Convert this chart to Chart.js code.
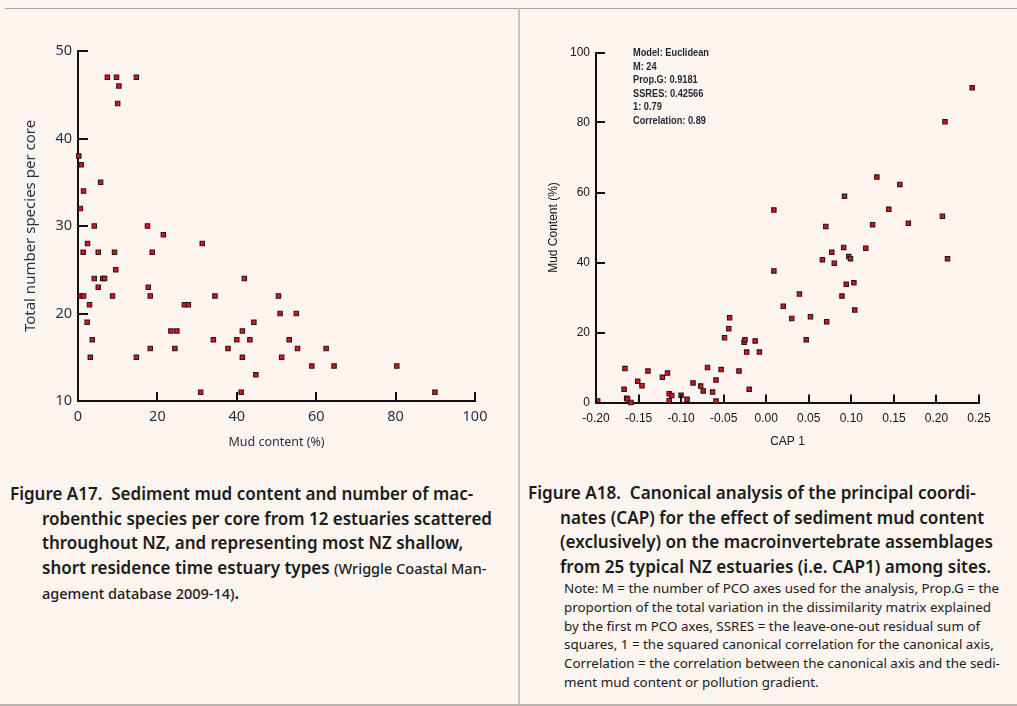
<!DOCTYPE html>
<html lang="en">
<head>
  <meta charset="utf-8"/>
  <title>Figure A17 / A18 - mud content</title>
  <script src="https://cdn.jsdelivr.net/npm/chart.js"></script>
  <style>
    body { margin: 0; background: #fcf4ef; width: 1017px; height: 706px; overflow: hidden; position: relative; font-family: "Noto Sans", "Open Sans", sans-serif; color: #1f2633; }
    .rule-top { position: absolute; left: 5px; right: 0; top: 8px; height: 1px; background: #aaa5a1; }
    .rule-mid { position: absolute; left: 518px; top: 8px; width: 2px; bottom: 0; background: #c9c3bf; }
    .rule-bot { position: absolute; left: 0; right: 0; top: 704px; height: 2px; background: #b9b4b0; }
    canvas { position: absolute; top: 0; }
    #chartLeft { left: 0; }
    #chartRight { left: 520px; }
    .cap { position: absolute; font-weight: 600; line-height: 24.7px; padding-left: 32px; text-indent: -32px; white-space: nowrap; color: #1b1b1b; }
    .cap .src { font-weight: 500; font-size: 14.5px; }
    .note { position: absolute; left: 564px; top: 579px; font-size: 13.4px; line-height: 18.8px; white-space: nowrap; color: #1b1b1b; }
    .stats { position: absolute; left: 633px; top: 46px; font-family: "Liberation Sans", Arial, sans-serif; font-weight: bold; font-size: 11px; line-height: 13.5px; color: #1e2636; transform: scaleX(0.84); transform-origin: left top; }
  </style>
</head>
<body>
  <div class="rule-top"></div>
  <div class="rule-mid"></div>
  <div class="rule-bot"></div>

  <canvas id="chartLeft" width="518" height="470"></canvas>
  <canvas id="chartRight" width="497" height="470"></canvas>

  <div class="stats">
    Model: Euclidean<br>
    M: 24<br>
    Prop.G: 0.9181<br>
    SSRES: 0.42566<br>
    1: 0.79<br>
    Correlation: 0.89
  </div>

  <div class="cap" style="left:10px; top:482px; font-size:17px;">
    Figure A17.&nbsp; Sediment mud content and number of mac-<br>
    robenthic species per core from 12 estuaries scattered<br>
    throughout NZ, and representing most NZ shallow,<br>
    short residence time estuary types <span class="src">(Wriggle Coastal Man-</span><br>
    <span class="src">agement database 2009-14)</span>.
  </div>

  <div class="cap" style="left:528px; top:481px; font-size:17.1px;">
    Figure A18.&nbsp; Canonical analysis of the principal coordi-<br>
    nates (CAP) for the effect of sediment mud content<br>
    (exclusively) on the macroinvertebrate assemblages<br>
    from 25 typical NZ estuaries (i.e. CAP1) among sites.
  </div>

  <div class="note">
    Note: M = the number of PCO axes used for the analysis, Prop.G = the<br>
    proportion of the total variation in the dissimilarity matrix explained<br>
    by the first m PCO axes, SSRES = the leave-one-out residual sum of<br>
    squares, 1 = the squared canonical correlation for the canonical axis,<br>
    Correlation = the correlation between the canonical axis and the sedi-<br>
    ment mud content or pollution gradient.
  </div>

  <script>
    // Figure A17: mud content (%) vs species per core
    const mudContent = [7.4, 9.7, 14.7, 10.3, 10.0, 0.2, 0.8, 5.7, 1.4, 0.6, 4.1, 2.4, 1.3, 5.1, 9.2, 9.5,
      4.1, 6.2, 6.7, 5.1, 0.6, 1.4, 8.7, 2.9, 2.3, 3.6, 3.1, 17.5, 21.5, 18.7, 17.7, 18.2, 18.2, 14.7,
      26.8, 27.8, 23.4, 24.9, 24.4, 31.3, 30.9, 34.5, 34.1, 37.8, 40.0, 41.4, 41.4, 41.9, 41.1, 43.3,
      44.3, 44.8, 50.5, 50.9, 51.3, 55.0, 53.2, 55.3, 62.5, 58.9, 64.5, 80.3, 89.9];
    const speciesPerCore = [47, 47, 47, 46, 44, 38, 37, 35, 34, 32, 30, 28, 27, 27, 27, 25,
      24, 24, 24, 23, 22, 22, 22, 21, 19, 17, 15, 30, 29, 27, 23, 22, 16, 15,
      21, 21, 18, 18, 16, 28, 11, 22, 17, 16, 17, 18, 15, 24, 11, 17,
      19, 13, 22, 20, 15, 20, 17, 16, 16, 14, 14, 14, 11];
    const leftXTicks = [0, 20, 40, 60, 80, 100];
    const leftYTicks = [10, 20, 30, 40, 50];

    // Figure A18: CAP 1 vs mud content (%)
    const cap1 = [-0.198, -0.166, -0.167, -0.164, -0.163, -0.159, -0.151, -0.146, -0.139, -0.122, -0.116,
      -0.114, -0.111, -0.114, -0.100, -0.093, -0.086, -0.077, -0.074, -0.069, -0.063, -0.059, -0.059,
      -0.053, -0.049, -0.044, -0.043, -0.032, -0.026, -0.025, -0.023, -0.020, -0.013, -0.008,
      0.009, 0.009, 0.020, 0.030, 0.039, 0.242, 0.210, 0.130, 0.157, 0.092, 0.144, 0.207, 0.070,
      0.125, 0.167, 0.091, 0.117, 0.077, 0.097, 0.099, 0.066, 0.080, 0.213, 0.103, 0.094, 0.089,
      0.104, 0.052, 0.071, 0.047];
    const capMud = [0.4, 9.7, 3.8, 1.2, 1.0, 0.0, 6.1, 4.8, 9.0, 7.2, 8.4,
      2.5, 2.0, 0.5, 2.1, 0.9, 5.6, 4.7, 3.3, 10.0, 3.0, 6.4, 0.4,
      9.4, 18.5, 21.1, 24.2, 9.0, 17.2, 17.9, 14.4, 3.8, 17.6, 14.4,
      55.0, 37.6, 27.5, 24.0, 31.0, 89.9, 80.2, 64.4, 62.3, 58.9, 55.2, 53.2, 50.3,
      50.8, 51.2, 44.3, 44.1, 42.9, 41.7, 41.1, 40.8, 39.8, 41.1, 34.2, 33.8, 30.4,
      26.4, 24.5, 23.1, 17.9];
    const rightXTicks = [-0.20, -0.15, -0.10, -0.05, 0.00, 0.05, 0.10, 0.15, 0.20, 0.25];
    const rightYTicks = [0, 20, 40, 60, 80, 100];

    const toPoints = (xs, ys) => xs.map((v, i) => ({ x: v, y: ys[i] }));

    // ticks in these figures point into the plot, so draw them by hand
    const inwardTicks = {
      id: 'inwardTicks',
      afterDraw(chart, args, opts) {
        const { ctx, chartArea: a, scales: { x, y } } = chart;
        ctx.save();
        ctx.strokeStyle = '#111';
        ctx.lineWidth = 2;
        ctx.beginPath();
        y.ticks.forEach(t => {
          const py = Math.round(y.getPixelForValue(t.value));
          ctx.moveTo(a.left, py);
          ctx.lineTo(a.left + opts.ylen, py);
        });
        x.ticks.forEach(t => {
          const px = Math.round(x.getPixelForValue(t.value));
          ctx.moveTo(px, a.bottom);
          ctx.lineTo(px, a.bottom - opts.xlen);
        });
        ctx.stroke();
        ctx.restore();
      }
    };

    const pointStyle = {
      pointStyle: 'rect',
      pointRadius: 3.1,
      pointBorderWidth: 1.1,
      pointBackgroundColor: '#e0121b',
      pointBorderColor: '#2b1414',
      showLine: false,
      clip: false
    };

    function fixedTicks(list) {
      return function (scale) {
        scale.ticks = list.map(v => ({ value: v }));
      };
    }

    new Chart(document.getElementById('chartLeft'), {
      type: 'scatter',
      data: { datasets: [Object.assign({ data: toPoints(mudContent, speciesPerCore) }, pointStyle)] },
      options: {
        responsive: false,
        animation: false,
        layout: { padding: { top: 51, right: 43, left: 0, bottom: 0 } },
        plugins: { legend: { display: false }, tooltip: { enabled: false }, inwardTicks: { ylen: 10, xlen: 9 } },
        scales: {
          x: {
            type: 'linear', min: 0, max: 100,
            afterBuildTicks: fixedTicks(leftXTicks),
            afterFit(s) { s.height = 69; },
            grid: { display: false, drawTicks: false },
            border: { display: true, color: '#111', width: 2 },
            ticks: { padding: 7, maxRotation: 0, color: '#26324a', font: { family: 'Noto Sans', size: 14.5 } },
            title: { display: true, text: 'Mud content (%)', color: '#26324a', padding: { top: 0, bottom: 20 }, font: { family: 'Noto Sans', size: 12.5 } }
          },
          y: {
            type: 'linear', min: 10, max: 50,
            afterBuildTicks: fixedTicks(leftYTicks),
            afterFit(s) { s.width = 78; },
            grid: { display: false, drawTicks: false },
            border: { display: true, color: '#111', width: 2 },
            ticks: { padding: 6, color: '#26324a', font: { family: 'Noto Sans', size: 14.5 } },
            title: { display: true, text: 'Total number species per core', color: '#26324a', padding: { top: 22, bottom: 0 }, font: { family: 'Noto Sans', size: 15 } }
          }
        }
      },
      plugins: [inwardTicks]
    });

    new Chart(document.getElementById('chartRight'), {
      type: 'scatter',
      data: { datasets: [Object.assign({ data: toPoints(cap1, capMud) }, pointStyle)] },
      options: {
        responsive: false,
        animation: false,
        layout: { padding: { top: 52.5, right: 38, left: 0, bottom: 0 } },
        plugins: { legend: { display: false }, tooltip: { enabled: false }, inwardTicks: { ylen: 9, xlen: 8 } },
        scales: {
          x: {
            type: 'linear', min: -0.20, max: 0.25,
            afterBuildTicks: fixedTicks(rightXTicks),
            afterFit(s) { s.height = 67.5; },
            grid: { display: false, drawTicks: false },
            border: { display: true, color: '#111', width: 2 },
            ticks: {
              padding: 9, maxRotation: 0, autoSkip: false, color: '#151515',
              font: { family: 'Liberation Sans', size: 12 },
              callback: v => (Math.abs(v) < 1e-9 ? 0 : v).toFixed(2)
            },
            title: { display: true, text: 'CAP 1', color: '#151515', padding: { top: 0, bottom: 21 }, font: { family: 'Liberation Sans', size: 12 } }
          },
          y: {
            type: 'linear', min: 0, max: 100,
            afterBuildTicks: fixedTicks(rightYTicks),
            afterFit(s) { s.width = 76; },
            grid: { display: false, drawTicks: false },
            border: { display: true, color: '#111', width: 2 },
            ticks: { padding: 6, color: '#151515', font: { family: 'Liberation Sans', size: 12 } },
            title: { display: true, text: 'Mud Content (%)', color: '#151515', padding: { top: 26, bottom: 0 }, font: { family: 'Liberation Sans', size: 12 } }
          }
        }
      },
      plugins: [inwardTicks]
    });
  </script>
</body>
</html>
